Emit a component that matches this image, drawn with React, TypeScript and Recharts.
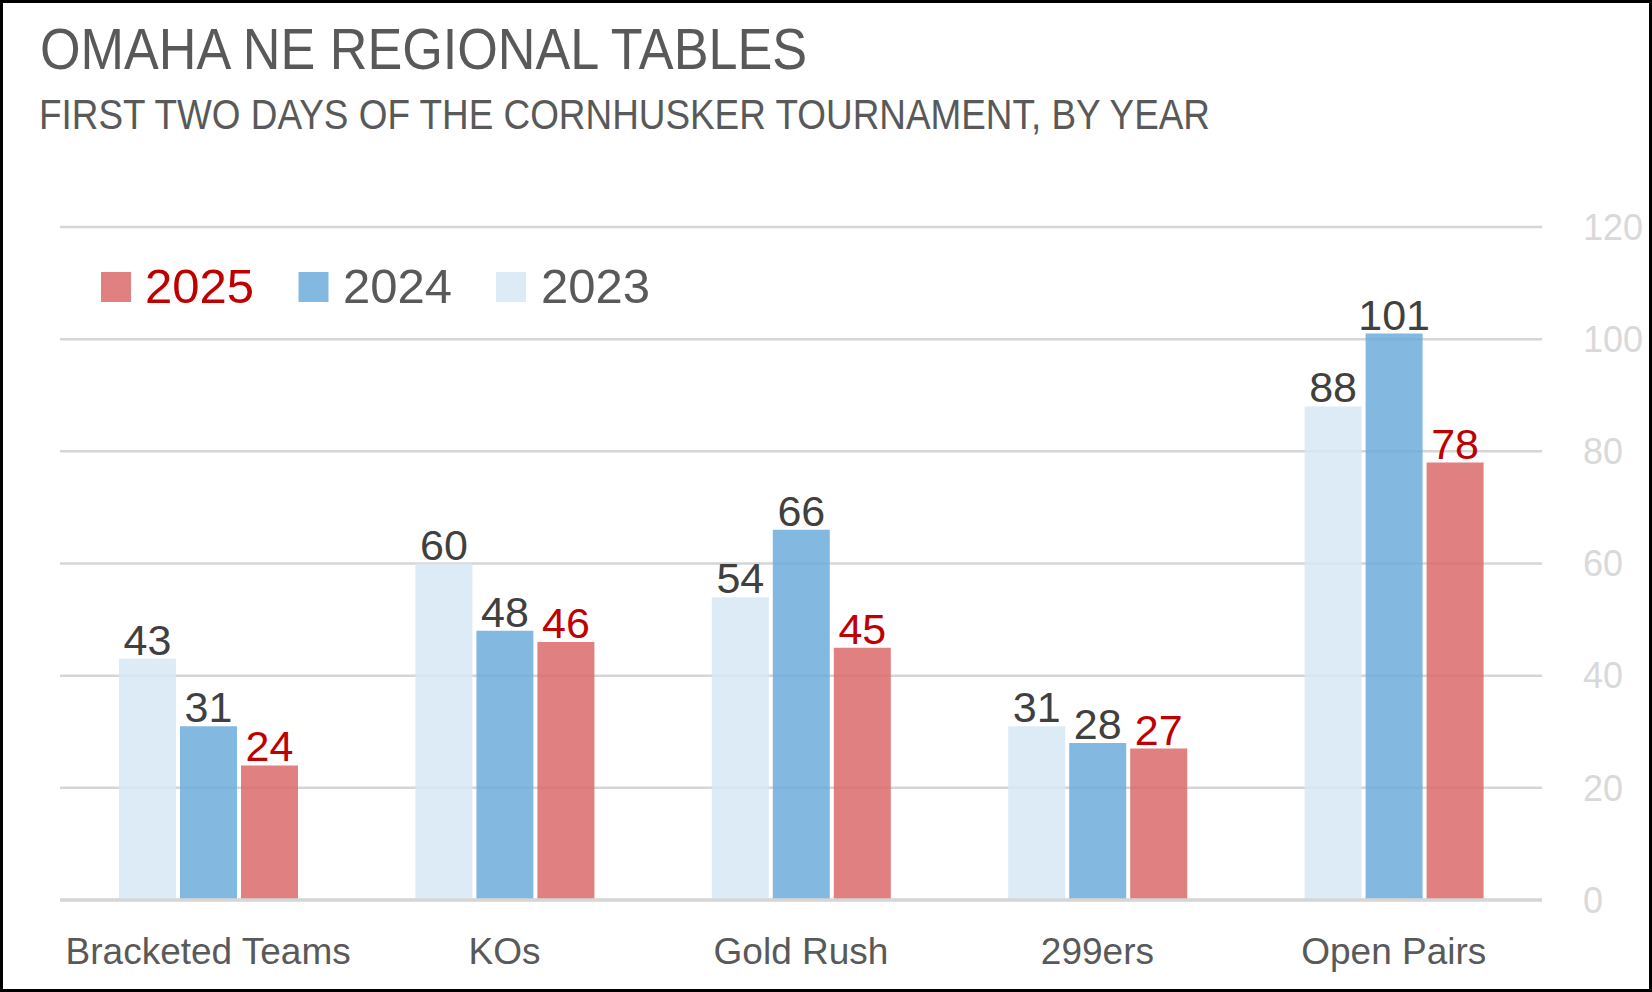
import React from 'react';
import { BarChart, Bar, XAxis, YAxis, CartesianGrid, LabelList } from 'recharts';

const categories = ['Bracketed Teams', 'KOs', 'Gold Rush', '299ers', 'Open Pairs'];
const values2023 = [43, 60, 54, 31, 88];
const values2024 = [31, 48, 66, 28, 101];
const values2025 = [24, 46, 45, 27, 78];
const yTicks = [0, 20, 40, 60, 80, 100, 120];
const legendYears = ['2025', '2024', '2023'];

const FONT = '"Liberation Sans", Arial, sans-serif';
const C2023 = '#D7E7F6';
const C2024 = '#6DADDC';
const C2025 = '#DA6A6A';
const legendColors = [C2025, C2024, C2023];
const legendTextColors = ['#C00000', '#595959', '#595959'];

const data = categories.map((c, i) => ({
  category: c,
  y2023: values2023[i],
  y2024: values2024[i],
  y2025: values2025[i],
}));

const XTick = (props: any) => {
  const { x, y, payload } = props;
  return (
    <text x={x} y={y} dy={64} textAnchor="middle" fill="#595959" fontSize={37} fontFamily={FONT}>
      {payload.value}
    </text>
  );
};

export default function App() {
  return (
    <div style={{ position: 'absolute', left: 0, top: 0, width: 1652, height: 992, background: '#fff' }}>
      <BarChart
        width={1652}
        height={992}
        data={data}
        margin={{ top: 227, right: 0, bottom: 0, left: 60 }}
        barCategoryGap={59}
        barGap={4}
      >
        <CartesianGrid vertical={false} stroke="#D6D6D6" strokeWidth={2.5} />
        <XAxis
          dataKey="category"
          height={92}
          axisLine={{ stroke: '#D6D6D6', strokeWidth: 3.5 }}
          tickLine={false}
          tickSize={0}
          tickMargin={0}
          tick={<XTick />}
          interval={0}
        />
        <YAxis
          orientation="right"
          width={110}
          domain={[0, 120]}
          ticks={yTicks}
          axisLine={false}
          tickLine={false}
          tickSize={0}
          tickMargin={41}
          tick={{ fill: '#D9D9D9', fontSize: 36, fontFamily: FONT }}
        />
        <Bar dataKey="y2023" fill={C2023} fillOpacity={0.85} isAnimationActive={false}>
          <LabelList dataKey="y2023" position="top" offset={4} fill="#404040" fontSize={43} fontFamily={FONT} />
        </Bar>
        <Bar dataKey="y2024" fill={C2024} fillOpacity={0.85} isAnimationActive={false}>
          <LabelList dataKey="y2024" position="top" offset={4} fill="#404040" fontSize={43} fontFamily={FONT} />
        </Bar>
        <Bar dataKey="y2025" fill={C2025} fillOpacity={0.85} isAnimationActive={false}>
          <LabelList dataKey="y2025" position="top" offset={4} fill="#C00000" fontSize={43} fontFamily={FONT} />
        </Bar>
      </BarChart>
      <svg
        width={1652}
        height={992}
        style={{ position: 'absolute', left: 0, top: 0, pointerEvents: 'none' }}
      >
        <text x={40} y={69} fontSize={58} fontFamily={FONT} fill="#595959" textLength={767} lengthAdjust="spacingAndGlyphs">
          OMAHA NE REGIONAL TABLES
        </text>
        <text x={39} y={129} fontSize={42} fontFamily={FONT} fill="#595959" textLength={1171} lengthAdjust="spacingAndGlyphs">
          FIRST TWO DAYS OF THE CORNHUSKER TOURNAMENT, BY YEAR
        </text>
        {legendYears.map((yr, i) => (
          <g key={yr}>
            <rect x={101 + i * 197.5} y={272} width={30} height={30} fill={legendColors[i]} fillOpacity={0.85} />
            <text x={145 + i * 198} y={303} fontSize={49} fontFamily={FONT} fill={legendTextColors[i]}>
              {yr}
            </text>
          </g>
        ))}
      </svg>
      <div
        style={{
          position: 'absolute',
          left: 0,
          top: 0,
          width: 1652,
          height: 992,
          boxSizing: 'border-box',
          border: '3px solid #000',
          pointerEvents: 'none',
        }}
      />
    </div>
  );
}
